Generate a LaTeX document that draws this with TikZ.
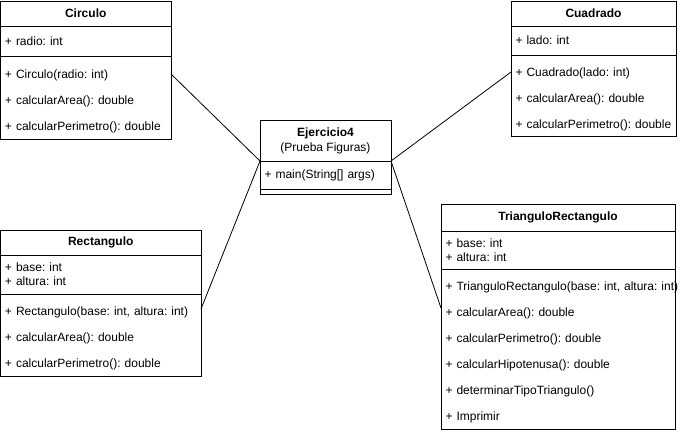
\documentclass[tikz,border=0pt]{standalone}
\usepackage{fontspec}
\setmainfont{Liberation Sans}
\usetikzlibrary{positioning}

\begin{document}
\frenchspacing
\begin{tikzpicture}[x=1pt,y=-1pt,
    every node/.style={inner sep=0pt, outer sep=0pt, line width=1pt},
    ctitle/.style={draw, font=\fontsize{12}{15}\selectfont\bfseries, align=center},
    cattr/.style={draw, align=left, inner xsep=4.5pt, font=\fontsize{12}{14}\selectfont},
    cmeth/.style={draw, align=left, inner xsep=4.5pt, font=\fontsize{12}{26}\selectfont,
        execute at begin node={\rule{0pt}{15.5pt}}},
    assoc/.style={draw, line width=0.8pt}]
    \useasboundingbox (0,0) rectangle (681,432);

    % Circulo
    \node[ctitle, anchor=north west, minimum width=170.5pt, minimum height=25pt] (circT) at (0.5,1) {Circulo};
    \node[cattr, below=0pt of circT, text width=161.5pt, minimum height=30pt] (circA) {+ radio: int};
    \node[cmeth, below=0pt of circA, text width=161.5pt, minimum height=83pt] (circM)
        {+ Circulo(radio: int)\\+ calcularArea(): double\\+ calcularPerimetro(): double};

    % Cuadrado
    \node[ctitle, anchor=north west, minimum width=165pt, minimum height=25pt] (cuadT) at (511,1) {Cuadrado};
    \node[cattr, below=0pt of cuadT, text width=156pt, minimum height=29pt] (cuadA) {+ lado: int};
    \node[cmeth, below=0pt of cuadA, text width=156pt, minimum height=81pt] (cuadM)
        {+ Cuadrado(lado: int)\\+ calcularArea(): double\\\mbox{+ calcularPerimetro(): double}};

    % Ejercicio4
    \node[ctitle, anchor=north west, minimum width=131pt, minimum height=41pt] (ejT) at (260,120)
        {Ejercicio4\\\mdseries(Prueba Figuras)};
    \node[cattr, below=0pt of ejT, text width=122pt, minimum height=28pt] (ejA) {+ main(String[] args)};
    \node[cattr, below=0pt of ejA, text width=122pt, minimum height=5pt] (ejM) {};

    % Rectangulo
    \node[ctitle, anchor=north west, minimum width=200.5pt, minimum height=25pt] (rectT) at (0.5,230) {Rectangulo};
    \node[cattr, below=0pt of rectT, text width=191.5pt, minimum height=39pt] (rectA) {+ base: int\\+ altura: int};
    \node[cmeth, below=0pt of rectA, text width=191.5pt, minimum height=82pt] (rectM)
        {+ Rectangulo(base: int, altura: int)\\+ calcularArea(): double\\+ calcularPerimetro(): double};

    % TrianguloRectangulo
    \node[ctitle, anchor=north west, minimum width=234pt, minimum height=27pt] (triT) at (441,204) {TrianguloRectangulo};
    \node[cattr, below=0pt of triT, text width=225pt, minimum height=38pt] (triA) {+ base: int\\+ altura: int};
    \node[cmeth, below=0pt of triA, text width=225pt, minimum height=160pt] (triM)
        {\mbox{+ TrianguloRectangulo(base: int, altura: int)}\\+ calcularArea(): double\\+ calcularPerimetro(): double\\+ calcularHipotenusa(): double\\+ determinarTipoTriangulo()\\+ Imprimir};

    % ends of the links
    \coordinate (circP) at ([yshift=-18pt]circM.north east);
    \coordinate (cuadP) at ([yshift=-17pt]cuadM.north west);
    \coordinate (rectP) at ([yshift=-15pt]rectM.north east);
    \coordinate (triP) at ([yshift=-39pt]triM.north west);

    \draw[assoc] (circP) -- (ejT.south west);
    \draw[assoc] (rectP) -- (ejT.south west);
    \draw[assoc] (cuadP) -- (ejT.south east);
    \draw[assoc] (triP) -- (ejT.south east);
\end{tikzpicture}
\end{document}
